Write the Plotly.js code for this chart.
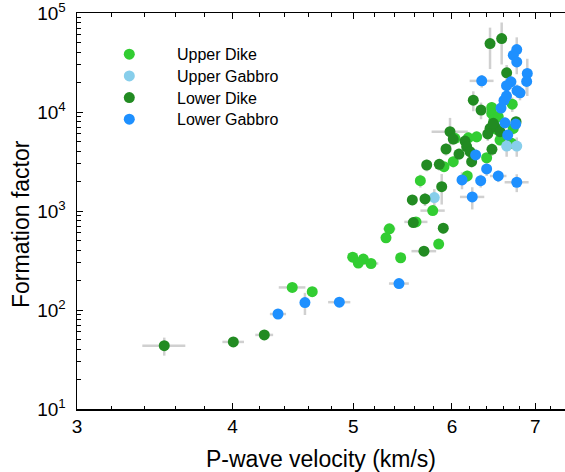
<!DOCTYPE html>
<html>
<head>
<meta charset="utf-8">
<script src="https://cdn.plot.ly/plotly-3.0.1.min.js"></script>
<style>html,body{margin:0;padding:0;background:#fff;overflow:hidden}#chart{width:565px;height:472px}</style>
</head>
<body>
<div id="chart"></div>
<script>
// ---- data ----
const seriesNames = ['Upper Dike', 'Upper Gabbro', 'Lower Dike', 'Lower Gabbro'];

const upperDikeVp = [4.466, 4.634, 4.994, 5.093, 5.046, 5.166, 5.457, 5.344, 5.311, 5.854, 5.614, 5.790, 5.659, 5.912, 6.014, 6.397, 6.172, 6.184, 6.280, 6.557, 6.457, 6.707, 6.457, 6.536, 6.517, 6.720, 6.700, 6.033, 6.484];
const upperDikeFF = [169, 153, 342, 327, 298, 295, 337, 660, 536, 463, 776, 1009, 2025, 2800, 3150, 3450, 2258, 5490, 5620, 5210, 11100, 12010, 9680, 8950, 6680, 6830, 4830, 5420, 8285];
const upperDikeVpErr = [0.11, 0.03, 0.03, 0.03, 0.03, 0.07, 0.03, 0.06, 0.03, 0.04, 0.12, 0.13, 0.05, 0.05, 0.05, 0.05, 0.04, 0.06, 0.05, 0.05, 0.05, 0.04, 0.04, 0.04, 0.05, 0.04, 0.04, 0.05, 0.05];
const upperDikeFFErr = [10, 10, 20, 20, 15, 15, 20, 40, 30, 30, 60, 80, 300, 300, 400, 400, 300, 800, 700, 600, 1500, 2000, 1200, 1000, 900, 900, 600, 600, 1000];

const upperGabbroVp = [5.807, 6.638, 6.763];
const upperGabbroFF = [1365, 4530, 4530];
const upperGabbroVpErr = [0.04, 0.04, 0.04];
const upperGabbroFFErr = [300, 1000, 1000];

const lowerDikeVp = [3.525, 4.005, 4.241, 5.697, 5.904, 5.586, 5.576, 5.708, 5.887, 5.726, 5.861, 6.222, 5.978, 6.014, 5.934, 6.146, 6.165, 6.203, 6.078, 6.460, 6.437, 6.496, 6.476, 6.557, 6.410, 6.754, 6.241, 6.331, 6.638, 6.437, 6.577];
const lowerDikeFF = [43.6, 47.6, 56.0, 393, 671, 764, 1294, 1324, 1762, 2915, 2960, 3150, 6320, 5330, 4230, 5090, 4460, 3970, 3760, 4200, 6830, 7090, 7680, 6320, 6000, 7970, 13180, 10450, 24850, 49150, 55200];
const lowerDikeVpErr = [0.14, 0.08, 0.07, 0.13, 0.04, 0.04, 0.04, 0.04, 0.04, 0.05, 0.05, 0.05, 0.20, 0.05, 0.05, 0.05, 0.05, 0.05, 0.05, 0.05, 0.05, 0.05, 0.05, 0.05, 0.05, 0.05, 0.05, 0.05, 0.05, 0.02, 0.02];
const lowerDikeFFErr = [9, 3, 4, 40, 80, 80, 150, 200, 600, 400, 400, 400, 2400, 700, 600, 800, 600, 500, 500, 600, 1000, 1000, 1000, 900, 900, 1000, 3000, 2000, 5000, 22000, 25000];

const lowerGabbroVp = [4.350, 4.572, 4.872, 5.440, 6.229, 6.112, 6.327, 6.536, 6.763, 6.397, 6.268, 6.651, 6.617, 6.750, 6.569, 6.605, 6.636, 6.766, 6.804, 6.691, 6.636, 6.339, 6.763, 6.720, 6.763, 6.896, 6.888];
const lowerGabbroFF = [91.1, 119, 120, 185, 1387, 2058, 2025, 2258, 1951, 2660, 3680, 5850, 7780, 7550, 10950, 13090, 14470, 16430, 15620, 20160, 18450, 20630, 42760, 37470, 32060, 24500, 20350];
const lowerGabbroVpErr = [0.065, 0.02, 0.10, 0.10, 0.14, 0.04, 0.05, 0.10, 0.15, 0.05, 0.05, 0.05, 0.05, 0.05, 0.05, 0.05, 0.05, 0.04, 0.04, 0.04, 0.04, 0.14, 0.03, 0.03, 0.03, 0.03, 0.03];
const lowerGabbroFFErr = [5, 30, 5, 10, 350, 400, 300, 300, 400, 400, 500, 800, 1000, 1000, 1500, 2000, 2000, 2500, 2500, 3000, 3000, 3000, 14000, 5000, 8000, 10000, 5000];

const xTickVals = [3, 4, 5, 6, 7];
const xTickText = ['3', '4', '5', '6', '7'];
const xMinorVals = [3.2, 3.4, 3.6, 3.8, 4.2, 4.4, 4.6, 4.8, 5.2, 5.4, 5.6, 5.8, 6.2, 6.4, 6.6, 6.8, 7.2];
const yTickVals = [10, 100, 1000, 10000, 100000];
const yTickText = ['10<sup>1</sup>', '10<sup>2</sup>', '10<sup>3</sup>', '10<sup>4</sup>', '10<sup>5</sup>'];
const yMinorVals = [20, 30, 40, 50, 60, 70, 80, 90, 200, 300, 400, 500, 600, 700, 800, 900,
  2000, 3000, 4000, 5000, 6000, 7000, 8000, 9000, 20000, 30000, 40000, 50000, 60000, 70000, 80000, 90000];
const xTitle = 'P-wave velocity (km/s)';
const yTitle = 'Formation factor';

// ---- styling ----
const colors = ['#32CD32', '#87CEEB', '#228B22', '#1E90FF'];
const FONT = 'Liberation Sans, Arial, Helvetica, sans-serif';
const legendIds = ['legend', 'legend2', 'legend3', 'legend4'];
const groups = [
  [upperDikeVp, upperDikeFF, upperDikeVpErr, upperDikeFFErr],
  [upperGabbroVp, upperGabbroFF, upperGabbroVpErr, upperGabbroFFErr],
  [lowerDikeVp, lowerDikeFF, lowerDikeVpErr, lowerDikeFFErr],
  [lowerGabbroVp, lowerGabbroFF, lowerGabbroVpErr, lowerGabbroFFErr]
];

const traces = [];
// error bars first, so they sit behind every marker
groups.forEach((g, i) => {
  traces.push({
    type: 'scatter', mode: 'markers', x: g[0], y: g[1],
    marker: {size: 1, opacity: 0}, showlegend: false, hoverinfo: 'skip',
    error_x: {type: 'data', array: g[2], color: '#d0d0d0', thickness: 2.5, width: 0},
    error_y: {type: 'data', array: g[3], color: '#d0d0d0', thickness: 2.5, width: 0}
  });
});
groups.forEach((g, i) => {
  traces.push({
    type: 'scatter', mode: 'markers', name: seriesNames[i], legend: legendIds[i],
    x: g[0], y: g[1],
    marker: {size: 11, color: colors[i], line: {width: 0}}
  });
});

const W = 565, H = 472;
const mL = 77, mR = 0, mT = 13, mB = 63;
const pw = W - mL - mR, ph = H - mT - mB;
const xRange = [Math.log10(3), Math.log10(3 * Math.exp(pw / 541))];

const axisCommon = {
  ticks: 'inside', ticklen: 6, tickwidth: 1, tickcolor: '#000',
  showline: true, linecolor: '#000', linewidth: 1.5,
  showgrid: false, zeroline: false, ticklabeloverflow: 'allow'
};

const legendRows = [54.3, 76, 97.7, 119.3];
const legendLeft = 81.6;

const layout = {
  width: W, height: H,
  margin: {l: mL, r: mR, t: mT, b: mB, pad: 0},
  paper_bgcolor: '#fff', plot_bgcolor: '#fff',
  font: {family: FONT, color: '#000'},
  showlegend: true,
  xaxis: Object.assign({}, axisCommon, {
    type: 'log', range: xRange,
    tickmode: 'array', tickvals: xTickVals, ticktext: xTickText,
    minor: {tickmode: 'array', tickvals: xMinorVals, ticks: 'inside', ticklen: 3.5, tickwidth: 1, tickcolor: '#000', showgrid: false},
    mirror: 'ticks',
    tickfont: {size: 19, family: FONT, color: '#000'}, ticklabelstandoff: 0
  }),
  yaxis: Object.assign({}, axisCommon, {
    type: 'log', range: [1, 5],
    tickmode: 'array', tickvals: yTickVals, ticktext: yTickText,
    minor: {tickmode: 'array', tickvals: yMinorVals, ticks: 'inside', ticklen: 3.5, tickwidth: 1, tickcolor: '#000', showgrid: false},
    mirror: false,
    tickfont: {size: 19, family: FONT, color: '#000'}, ticklabelstandoff: 6
  }),
  annotations: [
    {text: xTitle, xref: 'paper', yref: 'paper', x: 0.5, y: -(459 - (H - mB)) / ph,
     xanchor: 'center', yanchor: 'middle', showarrow: false, font: {size: 23, family: FONT, color: '#000'}},
    {text: yTitle, xref: 'paper', yref: 'paper', x: (21 - mL) / pw, y: ((H - mB) - 224) / ph,
     xanchor: 'center', yanchor: 'middle', textangle: -90, showarrow: false, font: {size: 23, family: FONT, color: '#000'}}
  ]
};
legendIds.forEach((id, i) => {
  layout[id] = {
    x: (legendLeft - mL) / pw, y: 1 - (legendRows[i] - mT) / ph,
    xanchor: 'left', yanchor: 'middle',
    font: {size: 16, family: FONT, color: '#000'}, bgcolor: 'rgba(0,0,0,0)',
    borderwidth: 0, itemwidth: 85.4
  };
});

Plotly.newPlot('chart', traces, layout, {displayModeBar: false, staticPlot: true});
</script>
</body>
</html>
